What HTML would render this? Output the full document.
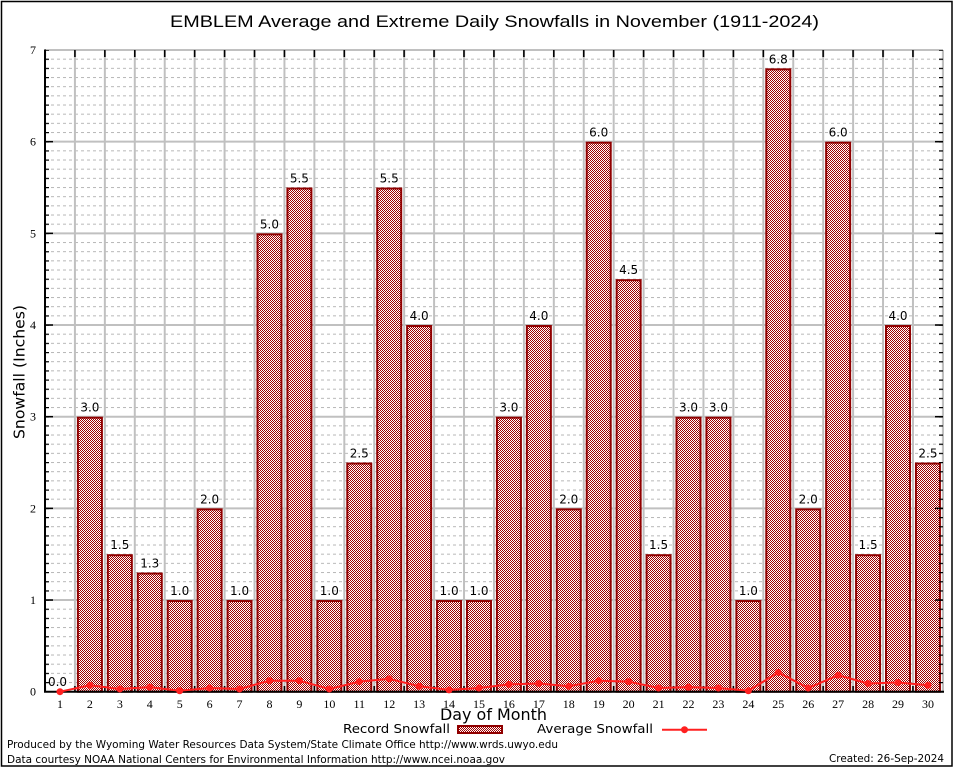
<!DOCTYPE html>
<html><head><meta charset="utf-8"><style>
html,body{margin:0;padding:0;background:#fff;}
svg{display:block;}
</style></head><body>
<svg width="954" height="768" viewBox="0 0 954 768" xmlns="http://www.w3.org/2000/svg">
<defs>
<pattern id="chk" patternUnits="userSpaceOnUse" x="0" y="0" width="2" height="2">
<rect width="2" height="2" fill="#fff" shape-rendering="crispEdges"/>
<rect x="0" y="0" width="1" height="1" fill="#a00000" shape-rendering="crispEdges"/>
<rect x="1" y="1" width="1" height="1" fill="#a00000" shape-rendering="crispEdges"/>
</pattern>
<pattern id="hmin" patternUnits="userSpaceOnUse" x="45" y="49.5" width="6" height="9.167">
<rect x="0" y="0" width="3" height="1" fill="#b8b8b8"/>
</pattern>
<pattern id="vgrid" patternUnits="userSpaceOnUse" x="44" y="0" width="29.93" height="10">
<rect x="0" y="0" width="2" height="10" fill="#c0c0c0"/>
</pattern>
<pattern id="vtick" patternUnits="userSpaceOnUse" x="44.2" y="0" width="29.93" height="10">
<rect x="0" y="0" width="1.6" height="10" fill="#000"/>
</pattern>
<pattern id="htick" patternUnits="userSpaceOnUse" x="0" y="49.5" width="10" height="9.167">
<rect x="0" y="0" width="10" height="1.2" fill="#000"/>
</pattern>
</defs>
<rect x="0" y="0" width="954" height="768" fill="#fff"/>
<rect x="1.5" y="1.5" width="950.5" height="764.5" fill="none" stroke="#000" stroke-width="1.5"/>

<!-- grid -->
<rect x="46" y="51" width="896" height="640" fill="url(#hmin)"/>
<rect x="46" y="50" width="896" height="642" fill="url(#vgrid)"/>
<g stroke="#c0c0c0" stroke-width="2">
<line x1="45" y1="600.03" x2="943" y2="600.03"/>
<line x1="45" y1="508.36" x2="943" y2="508.36"/>
<line x1="45" y1="416.69" x2="943" y2="416.69"/>
<line x1="45" y1="325.02" x2="943" y2="325.02"/>
<line x1="45" y1="233.35" x2="943" y2="233.35"/>
<line x1="45" y1="141.68" x2="943" y2="141.68"/>
<line x1="45" y1="50" x2="943" y2="50"/>
<line x1="943" y1="50" x2="943" y2="692"/>
</g>

<!-- bars -->
<g fill="url(#chk)" stroke="#900000" stroke-width="2">
<rect x="77.90" y="417.69" width="24" height="274.01"/>
<rect x="107.83" y="555.2" width="24" height="136.5"/>
<rect x="137.76" y="573.53" width="24" height="118.17"/>
<rect x="167.69" y="601.03" width="24" height="90.67"/>
<rect x="197.62" y="509.36" width="24" height="182.34"/>
<rect x="227.55" y="601.03" width="24" height="90.67"/>
<rect x="257.48" y="234.35" width="24" height="457.35"/>
<rect x="287.41" y="188.52" width="24" height="503.18"/>
<rect x="317.34" y="601.03" width="24" height="90.67"/>
<rect x="347.27" y="463.53" width="24" height="228.17"/>
<rect x="377.20" y="188.52" width="24" height="503.18"/>
<rect x="407.13" y="326.02" width="24" height="365.68"/>
<rect x="437.06" y="601.03" width="24" height="90.67"/>
<rect x="466.99" y="601.03" width="24" height="90.67"/>
<rect x="496.92" y="417.69" width="24" height="274.01"/>
<rect x="526.85" y="326.02" width="24" height="365.68"/>
<rect x="556.78" y="509.36" width="24" height="182.34"/>
<rect x="586.71" y="142.68" width="24" height="549.02"/>
<rect x="616.64" y="280.19" width="24" height="411.51"/>
<rect x="646.57" y="555.2" width="24" height="136.5"/>
<rect x="676.50" y="417.69" width="24" height="274.01"/>
<rect x="706.43" y="417.69" width="24" height="274.01"/>
<rect x="736.36" y="601.03" width="24" height="90.67"/>
<rect x="766.29" y="69.34" width="24" height="622.36"/>
<rect x="796.22" y="509.36" width="24" height="182.34"/>
<rect x="826.15" y="142.68" width="24" height="549.02"/>
<rect x="856.08" y="555.2" width="24" height="136.5"/>
<rect x="886.01" y="326.02" width="24" height="365.68"/>
<rect x="915.94" y="463.53" width="24" height="228.17"/>
</g>

<!-- ticks -->
<rect x="46" y="50" width="896" height="7" fill="url(#vtick)"/>
<rect x="46" y="686" width="896" height="5" fill="url(#vtick)"/>
<rect x="45" y="50" width="4" height="642" fill="url(#htick)"/>
<rect x="939" y="50" width="4" height="642" fill="url(#htick)"/>
<g stroke="#000" stroke-width="1.5">
<line x1="45" y1="600.03" x2="53" y2="600.03"/>
<line x1="45" y1="508.36" x2="53" y2="508.36"/>
<line x1="45" y1="416.69" x2="53" y2="416.69"/>
<line x1="45" y1="325.02" x2="53" y2="325.02"/>
<line x1="45" y1="233.35" x2="53" y2="233.35"/>
<line x1="45" y1="141.68" x2="53" y2="141.68"/>
<line x1="935" y1="600.03" x2="943" y2="600.03"/>
<line x1="935" y1="508.36" x2="943" y2="508.36"/>
<line x1="935" y1="416.69" x2="943" y2="416.69"/>
<line x1="935" y1="325.02" x2="943" y2="325.02"/>
<line x1="935" y1="233.35" x2="943" y2="233.35"/>
<line x1="935" y1="141.68" x2="943" y2="141.68"/>
</g>
<!-- axes -->
<line x1="45" y1="49.5" x2="45" y2="692.5" stroke="#000" stroke-width="2"/>
<line x1="44" y1="691.7" x2="944" y2="691.7" stroke="#000" stroke-width="2"/>

<!-- average line -->
<polyline fill="none" stroke="#ff2020" stroke-width="2" points="59.97,691.7 89.90,685.28 119.83,688.95 149.76,687.12 179.69,690.78 209.62,688.03 239.55,688.95 269.48,680.7 299.41,680.7 329.34,688.95 359.27,681.62 389.20,678.87 419.13,686.2 449.06,689.87 478.99,688.03 508.92,684.37 538.85,683.45 568.78,686.2 598.71,680.7 628.64,681.62 658.57,688.03 688.50,687.12 718.43,688.03 748.36,690.78 778.29,672.45 808.22,688.03 838.15,675.2 868.08,683.45 898.01,682.53 927.94,685.28"/>
<g fill="#ff2020">
<circle cx="59.97" cy="691.7" r="3.5"/>
<circle cx="89.90" cy="685.28" r="3.5"/>
<circle cx="119.83" cy="688.95" r="3.5"/>
<circle cx="149.76" cy="687.12" r="3.5"/>
<circle cx="179.69" cy="690.78" r="3.5"/>
<circle cx="209.62" cy="688.03" r="3.5"/>
<circle cx="239.55" cy="688.95" r="3.5"/>
<circle cx="269.48" cy="680.7" r="3.5"/>
<circle cx="299.41" cy="680.7" r="3.5"/>
<circle cx="329.34" cy="688.95" r="3.5"/>
<circle cx="359.27" cy="681.62" r="3.5"/>
<circle cx="389.20" cy="678.87" r="3.5"/>
<circle cx="419.13" cy="686.2" r="3.5"/>
<circle cx="449.06" cy="689.87" r="3.5"/>
<circle cx="478.99" cy="688.03" r="3.5"/>
<circle cx="508.92" cy="684.37" r="3.5"/>
<circle cx="538.85" cy="683.45" r="3.5"/>
<circle cx="568.78" cy="686.2" r="3.5"/>
<circle cx="598.71" cy="680.7" r="3.5"/>
<circle cx="628.64" cy="681.62" r="3.5"/>
<circle cx="658.57" cy="688.03" r="3.5"/>
<circle cx="688.50" cy="687.12" r="3.5"/>
<circle cx="718.43" cy="688.03" r="3.5"/>
<circle cx="748.36" cy="690.78" r="3.5"/>
<circle cx="778.29" cy="672.45" r="3.5"/>
<circle cx="808.22" cy="688.03" r="3.5"/>
<circle cx="838.15" cy="675.2" r="3.5"/>
<circle cx="868.08" cy="683.45" r="3.5"/>
<circle cx="898.01" cy="682.53" r="3.5"/>
<circle cx="927.94" cy="685.28" r="3.5"/>
</g>

<!-- value labels -->
<g font-family="DejaVu Sans, Liberation Sans, sans-serif" font-size="12" fill="#000" text-anchor="middle">
<text x="57.5" y="686">0.0</text>
<text x="89.90" y="411.69">3.0</text>
<text x="119.83" y="549.2">1.5</text>
<text x="149.76" y="567.53">1.3</text>
<text x="179.69" y="595.03">1.0</text>
<text x="209.62" y="503.36">2.0</text>
<text x="239.55" y="595.03">1.0</text>
<text x="269.48" y="228.35">5.0</text>
<text x="299.41" y="182.52">5.5</text>
<text x="329.34" y="595.03">1.0</text>
<text x="359.27" y="457.53">2.5</text>
<text x="389.20" y="182.52">5.5</text>
<text x="419.13" y="320.02">4.0</text>
<text x="449.06" y="595.03">1.0</text>
<text x="478.99" y="595.03">1.0</text>
<text x="508.92" y="411.69">3.0</text>
<text x="538.85" y="320.02">4.0</text>
<text x="568.78" y="503.36">2.0</text>
<text x="598.71" y="136.68">6.0</text>
<text x="628.64" y="274.19">4.5</text>
<text x="658.57" y="549.2">1.5</text>
<text x="688.50" y="411.69">3.0</text>
<text x="718.43" y="411.69">3.0</text>
<text x="748.36" y="595.03">1.0</text>
<text x="778.29" y="63.34">6.8</text>
<text x="808.22" y="503.36">2.0</text>
<text x="838.15" y="136.68">6.0</text>
<text x="868.08" y="549.2">1.5</text>
<text x="898.01" y="320.02">4.0</text>
<text x="927.94" y="457.53">2.5</text>
</g>

<!-- y tick labels -->
<g font-family="Liberation Serif, DejaVu Serif, serif" font-size="12" fill="#000" text-anchor="middle">
<text x="33" y="695.7">0</text>
<text x="33" y="604.03">1</text>
<text x="33" y="512.36">2</text>
<text x="33" y="420.69">3</text>
<text x="33" y="329.02">4</text>
<text x="33" y="237.35">5</text>
<text x="33" y="145.68">6</text>
<text x="33" y="54">7</text>
</g>

<!-- x tick labels -->
<g font-family="Liberation Serif, DejaVu Serif, serif" font-size="12" fill="#000" text-anchor="middle">
<text x="59.97" y="708">1</text>
<text x="89.90" y="708">2</text>
<text x="119.83" y="708">3</text>
<text x="149.76" y="708">4</text>
<text x="179.69" y="708">5</text>
<text x="209.62" y="708">6</text>
<text x="239.55" y="708">7</text>
<text x="269.48" y="708">8</text>
<text x="299.41" y="708">9</text>
<text x="329.34" y="708">10</text>
<text x="359.27" y="708">11</text>
<text x="389.20" y="708">12</text>
<text x="419.13" y="708">13</text>
<text x="449.06" y="708">14</text>
<text x="478.99" y="708">15</text>
<text x="508.92" y="708">16</text>
<text x="538.85" y="708">17</text>
<text x="568.78" y="708">18</text>
<text x="598.71" y="708">19</text>
<text x="628.64" y="708">20</text>
<text x="658.57" y="708">21</text>
<text x="688.50" y="708">22</text>
<text x="718.43" y="708">23</text>
<text x="748.36" y="708">24</text>
<text x="778.29" y="708">25</text>
<text x="808.22" y="708">26</text>
<text x="838.15" y="708">27</text>
<text x="868.08" y="708">28</text>
<text x="898.01" y="708">29</text>
<text x="927.94" y="708">30</text>
</g>

<!-- title -->
<text x="170" y="27" font-family="Liberation Sans, Arial, sans-serif" font-size="17" textLength="649" lengthAdjust="spacingAndGlyphs" fill="#000">EMBLEM Average and Extreme Daily Snowfalls in November (1911-2024)</text>

<!-- axis titles -->
<text transform="translate(24.5,372) rotate(-90)" text-anchor="middle" font-family="DejaVu Sans, Liberation Sans, sans-serif" font-size="15" textLength="134" lengthAdjust="spacingAndGlyphs" fill="#000">Snowfall (Inches)</text>
<text x="440" y="720" font-family="DejaVu Sans, Liberation Sans, sans-serif" font-size="16" textLength="107" lengthAdjust="spacingAndGlyphs" fill="#000">Day of Month</text>

<!-- legend -->
<text x="343" y="733" font-family="DejaVu Sans, Liberation Sans, sans-serif" font-size="12.5" textLength="107" lengthAdjust="spacingAndGlyphs" fill="#000">Record Snowfall</text>
<rect x="458" y="726" width="44" height="7" fill="url(#chk)" stroke="#900000" stroke-width="2"/>
<text x="537" y="733" font-family="DejaVu Sans, Liberation Sans, sans-serif" font-size="12.5" textLength="116" lengthAdjust="spacingAndGlyphs" fill="#000">Average Snowfall</text>
<line x1="662" y1="729.7" x2="707" y2="729.7" stroke="#ff2020" stroke-width="2"/>
<circle cx="684.5" cy="729.7" r="3.5" fill="#ff2020"/>

<!-- footer -->
<text x="7" y="748" font-family="DejaVu Sans, Liberation Sans, sans-serif" font-size="11" textLength="551" lengthAdjust="spacingAndGlyphs" fill="#000">Produced by the Wyoming Water Resources Data System/State Climate Office http://www.wrds.uwyo.edu</text>
<text x="7" y="763" font-family="DejaVu Sans, Liberation Sans, sans-serif" font-size="11" textLength="498" lengthAdjust="spacingAndGlyphs" fill="#000">Data courtesy NOAA National Centers for Environmental Information http://www.ncei.noaa.gov</text>
<text x="829" y="762" font-family="DejaVu Sans, Liberation Sans, sans-serif" font-size="11" textLength="115" lengthAdjust="spacingAndGlyphs" fill="#000">Created: 26-Sep-2024</text>
</svg>
</body></html>
